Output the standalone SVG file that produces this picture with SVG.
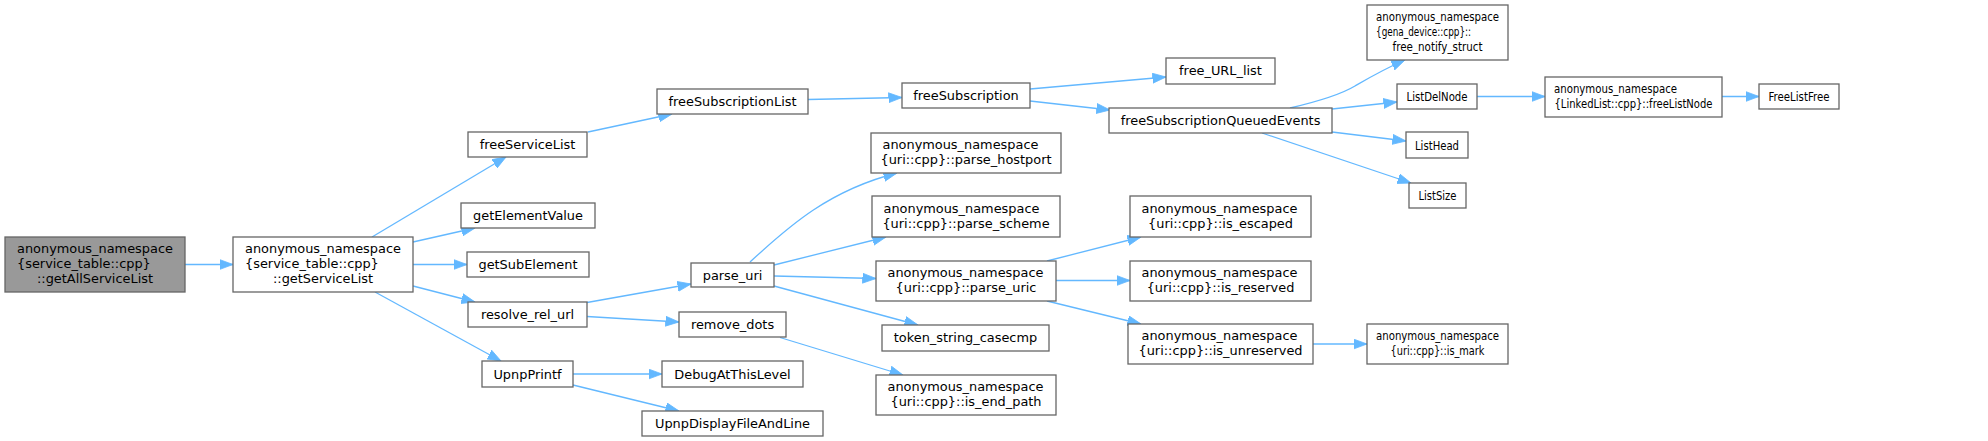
<svg xmlns="http://www.w3.org/2000/svg" width="1988" height="441" viewBox="0 0 1988 441">
<style>
.bg{fill:#ffffff}
.n rect{fill:#ffffff;stroke:#666666;stroke-width:1.3}
.n.root rect{fill:#999999}
.n text{font-family:"DejaVu Sans","Liberation Sans",sans-serif;font-size:12.9px;fill:#000000}
.c{text-anchor:middle}
.e path{fill:none;stroke:#63b8ff;stroke-width:1.3;marker-end:url(#ah)}
</style>
<defs>
<marker id="ah" markerUnits="userSpaceOnUse" markerWidth="14" markerHeight="11" refX="13.5" refY="5" orient="auto" viewBox="0 0 14 10">
<path d="M0,0 L13.5,5 L0,10 z" fill="#63b8ff" stroke="#63b8ff" stroke-width="0.8"/>
</marker>
</defs>
<rect class="bg" x="0" y="0" width="1988" height="441"/>
<g id="edges" class="e">
<path d="M185,264.5 L233,264.5"/>
<path d="M372,237 L506,157"/>
<path d="M413,242 L475,228"/>
<path d="M413,264.5 L467,264.5"/>
<path d="M413,286 L475,302"/>
<path d="M375,292 L501,361"/>
<path d="M588,132 L672,114"/>
<path d="M808,99.5 L902,97.5"/>
<path d="M1030,89 L1166,77"/>
<path d="M1030,101 L1110,110"/>
<path d="M1290,108 C1320,101 1340,95 1355,86 C1367,79 1382,70 1405,60"/>
<path d="M1332,109 L1397,102"/>
<path d="M1332,132 L1406,141"/>
<path d="M1262,133 L1411,183"/>
<path d="M1477,96.5 L1545,96.5"/>
<path d="M1722,96.5 L1759,96.5"/>
<path d="M587,302.5 L691,284"/>
<path d="M587,316.5 L679,322"/>
<path d="M573,374 L662,374"/>
<path d="M573,385 L679,411"/>
<path d="M750,262 C790,225 830,190 897,173"/>
<path d="M774,265 L886,237"/>
<path d="M774,276 L876,278.5"/>
<path d="M774,286 L918,325"/>
<path d="M780,337.5 L903,375"/>
<path d="M1047,261 L1141,237"/>
<path d="M1056,280.5 L1130,280.5"/>
<path d="M1047,301 L1141,324"/>
<path d="M1313,344 L1367,344"/>
</g>
<g id="n_getAllServiceList" class="n root"><rect x="5" y="237" width="180" height="55"/><text x="17" y="253">anonymous_namespace</text><text x="17" y="268">{service_table::cpp}</text><text class="c" x="95" y="283">::getAllServiceList</text></g>
<g id="n_getServiceList" class="n"><rect x="233" y="237" width="180" height="55"/><text x="245" y="253">anonymous_namespace</text><text x="245" y="268">{service_table::cpp}</text><text class="c" x="323" y="283">::getServiceList</text></g>
<g id="n_freeServiceList" class="n"><rect x="468" y="132" width="119" height="25"/><text class="c" x="527.5" y="149">freeServiceList</text></g>
<g id="n_getElementValue" class="n"><rect x="461" y="203" width="134" height="25"/><text class="c" x="528" y="220">getElementValue</text></g>
<g id="n_getSubElement" class="n"><rect x="467" y="252" width="122" height="25"/><text class="c" x="528" y="269">getSubElement</text></g>
<g id="n_resolve_rel_url" class="n"><rect x="468" y="302" width="119" height="25"/><text class="c" x="527.5" y="319">resolve_rel_url</text></g>
<g id="n_UpnpPrintf" class="n"><rect x="482" y="361" width="91" height="26"/><text class="c" x="527.5" y="378.5">UpnpPrintf</text></g>
<g id="n_freeSubscriptionList" class="n"><rect x="657" y="89" width="151" height="25"/><text class="c" x="732.5" y="106">freeSubscriptionList</text></g>
<g id="n_parse_uri" class="n"><rect x="691" y="263" width="83" height="24"/><text class="c" x="732.5" y="279.5">parse_uri</text></g>
<g id="n_remove_dots" class="n"><rect x="679" y="312" width="107" height="25"/><text class="c" x="732.5" y="329">remove_dots</text></g>
<g id="n_DebugAtThisLevel" class="n"><rect x="662" y="361" width="141" height="26"/><text class="c" x="732.5" y="378.5">DebugAtThisLevel</text></g>
<g id="n_UpnpDisplayFileAndLine" class="n"><rect x="642" y="411" width="181" height="25"/><text class="c" x="732.5" y="428">UpnpDisplayFileAndLine</text></g>
<g id="n_freeSubscription" class="n"><rect x="902" y="83" width="128" height="25"/><text class="c" x="966" y="100">freeSubscription</text></g>
<g id="n_parse_hostport" class="n"><rect x="871" y="133" width="190" height="40"/><text x="882.5" y="149">anonymous_namespace</text><text class="c" x="966" y="164">{uri::cpp}::parse_hostport</text></g>
<g id="n_parse_scheme" class="n"><rect x="872" y="196" width="188" height="41"/><text x="883.5" y="212.5">anonymous_namespace</text><text class="c" x="966" y="227.5">{uri::cpp}::parse_scheme</text></g>
<g id="n_parse_uric" class="n"><rect x="876" y="261" width="180" height="40"/><text x="887.5" y="277">anonymous_namespace</text><text class="c" x="966" y="292">{uri::cpp}::parse_uric</text></g>
<g id="n_token_string_casecmp" class="n"><rect x="882" y="325" width="167" height="26"/><text class="c" x="965.5" y="342">token_string_casecmp</text></g>
<g id="n_is_end_path" class="n"><rect x="876" y="375" width="180" height="40"/><text x="887.5" y="391">anonymous_namespace</text><text class="c" x="966" y="406">{uri::cpp}::is_end_path</text></g>
<g id="n_free_URL_list" class="n"><rect x="1166" y="58" width="109" height="26"/><text class="c" x="1220.5" y="75">free_URL_list</text></g>
<g id="n_freeSubscriptionQueuedEvents" class="n"><rect x="1109" y="108" width="223" height="25"/><text class="c" x="1220.5" y="125">freeSubscriptionQueuedEvents</text></g>
<g id="n_is_escaped" class="n"><rect x="1130" y="196" width="181" height="41"/><text x="1141.5" y="212.5">anonymous_namespace</text><text class="c" x="1220.5" y="227.5">{uri::cpp}::is_escaped</text></g>
<g id="n_is_reserved" class="n"><rect x="1130" y="261" width="181" height="40"/><text x="1141.5" y="277">anonymous_namespace</text><text class="c" x="1220.5" y="292">{uri::cpp}::is_reserved</text></g>
<g id="n_is_unreserved" class="n"><rect x="1128" y="324" width="185" height="40"/><text x="1141.5" y="340">anonymous_namespace</text><text class="c" x="1220.5" y="355">{uri::cpp}::is_unreserved</text></g>
<g id="n_free_notify_struct" class="n"><rect x="1367" y="5" width="141" height="55"/><text x="1376" y="21" textLength="123" lengthAdjust="spacingAndGlyphs">anonymous_namespace</text><text x="1376" y="36" textLength="95" lengthAdjust="spacingAndGlyphs">{gena_device::cpp}::</text><text class="c" x="1437.5" y="51" textLength="90" lengthAdjust="spacingAndGlyphs">free_notify_struct</text></g>
<g id="n_ListDelNode" class="n"><rect x="1397" y="84" width="80" height="25"/><text class="c" x="1437" y="101" textLength="61" lengthAdjust="spacingAndGlyphs">ListDelNode</text></g>
<g id="n_ListHead" class="n"><rect x="1406" y="132" width="62" height="26"/><text class="c" x="1437" y="149.5" textLength="44" lengthAdjust="spacingAndGlyphs">ListHead</text></g>
<g id="n_ListSize" class="n"><rect x="1409" y="183" width="57" height="25"/><text class="c" x="1437.5" y="200" textLength="38" lengthAdjust="spacingAndGlyphs">ListSize</text></g>
<g id="n_is_mark" class="n"><rect x="1367" y="324" width="141" height="40"/><text x="1376" y="340" textLength="123" lengthAdjust="spacingAndGlyphs">anonymous_namespace</text><text class="c" x="1437.5" y="355" textLength="94" lengthAdjust="spacingAndGlyphs">{uri::cpp}::is_mark</text></g>
<g id="n_freeListNode" class="n"><rect x="1545" y="77" width="177" height="40"/><text x="1554" y="93" textLength="123" lengthAdjust="spacingAndGlyphs">anonymous_namespace</text><text class="c" x="1633.5" y="108" textLength="158" lengthAdjust="spacingAndGlyphs">{LinkedList::cpp}::freeListNode</text></g>
<g id="n_FreeListFree" class="n"><rect x="1759" y="84" width="80" height="25"/><text class="c" x="1799" y="101" textLength="61" lengthAdjust="spacingAndGlyphs">FreeListFree</text></g>
</svg>
